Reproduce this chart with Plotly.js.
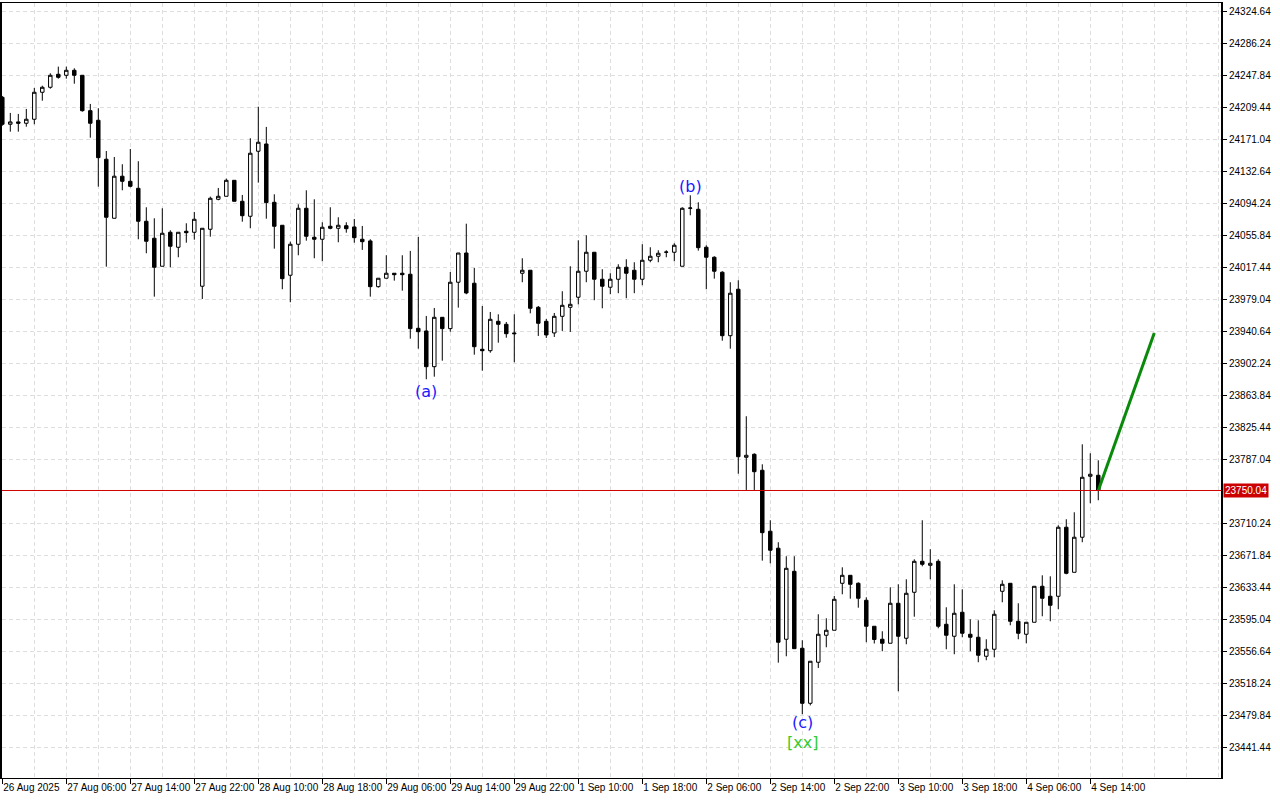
<!DOCTYPE html>
<html>
<head>
<meta charset="utf-8">
<script src="https://cdn.plot.ly/plotly-3.0.1.min.js"></script>
<style>
html,body{margin:0;padding:0;background:#fff;}
#chart{width:1280px;height:800px;}
</style>
</head>
<body>
<div id="chart"></div>
<script>
// ---- data (hourly candles, index 0..137) ----
var openP = [24222.2,24189.8,24192.6,24191.0,24195.8,24228.2,24234.2,24249.8,24248.6,24254.6,
24248.6,24206.1,24194.6,24147.8,24076.9,24127.4,24121.3,24112.9,24073.3,24052.9,
24019.3,24060.1,24042.1,24061.3,24060.1,23995.3,24063.7,24099.7,24103.3,24122.5,
24097.3,24079.3,24157.4,24166.1,24096.1,24068.5,24008.5,24045.7,24088.9,24054.1,
24051.7,24067.3,24064.9,24068.0,24066.5,24051.7,24049.7,23994.8,24004.9,24010.9,
24010.9,24009.7,23944.8,23941.6,23898.7,23958.0,23944.4,24000.1,24035.2,23998.9,
23919.6,23917.9,23953.2,23949.6,23939.2,24010.9,24014.5,23970.0,23953.2,23939.2,
23959.2,23970.0,23982.1,24013.3,24036.1,24003.7,23994.1,24003.7,24018.1,24014.5,
24003.7,24026.5,24031.3,24036.1,24036.1,24019.3,24088.9,24087.7,24042.1,24030.1,
24012.1,23935.9,23991.7,23789.9,23793.5,23774.3,23701.1,23680.7,23571.4,23653.0,
23560.6,23494.5,23543.8,23576.2,23582.2,23638.6,23648.2,23638.6,23618.2,23587.0,
23571.4,23566.6,23614.6,23572.6,23627.8,23665.0,23660.2,23665.0,23589.4,23575.0,
23603.8,23577.4,23573.8,23551.0,23559.4,23629.0,23638.6,23593.0,23577.4,23591.8,
23635.0,23623.0,23623.0,23705.9,23651.8,23693.9,23767.1,23768.3];

var highP = [24223.8,24203.4,24202.2,24208.2,24233.4,24236.1,24251.0,24259.0,24259.0,24257.0,
24248.6,24214.2,24209.0,24157.7,24150.5,24141.8,24160.1,24145.4,24090.1,24076.9,
24088.9,24062.5,24060.1,24070.9,24084.5,24064.9,24102.9,24113.3,24124.5,24122.5,
24104.9,24173.0,24210.9,24186.6,24105.7,24068.5,24048.8,24093.7,24110.5,24099.7,
24072.1,24090.1,24078.1,24072.1,24076.1,24067.7,24051.7,24004.9,24032.5,24010.9,
24032.5,24037.7,24054.5,23959.6,23969.2,23958.0,24012.4,24035.2,24070.4,24017.2,
23971.6,23964.4,23961.6,23952.4,23961.6,24028.9,24014.5,23971.6,23956.0,23963.2,
23989.3,24019.3,24050.5,24056.5,24036.1,24015.7,24010.9,24021.7,24027.7,24024.1,
24045.7,24042.1,24038.5,24038.5,24046.9,24090.1,24104.5,24096.1,24044.5,24031.3,
24013.3,24000.1,24002.5,23839.2,23794.7,23781.5,23714.3,23687.9,23671.1,23671.1,
23570.2,23545.0,23601.4,23596.6,23623.4,23657.8,23648.2,23639.8,23621.8,23587.0,
23581.0,23633.8,23637.4,23643.4,23667.4,23714.3,23679.5,23667.4,23609.8,23637.4,
23631.4,23595.4,23594.2,23571.4,23606.2,23642.2,23638.6,23614.6,23591.8,23635.0,
23648.2,23647.0,23708.3,23715.5,23723.9,23805.5,23794.7,23786.3];

var lowP = [24188.0,24180.9,24180.9,24186.9,24189.8,24218.1,24232.5,24244.5,24244.5,24238.5,
24204.9,24173.7,24114.9,24018.8,24076.9,24110.5,24114.1,24051.7,24034.9,23982.8,
24019.3,24018.1,24030.1,24047.6,24051.2,23980.0,24054.8,24098.5,24103.3,24097.3,
24072.8,24064.9,24119.7,24076.4,24040.4,23991.7,23976.1,24032.5,24050.0,24028.9,
24025.3,24063.7,24048.1,24059.6,24047.6,24038.9,23982.8,23993.6,24004.9,24002.0,
23990.0,23932.3,23920.3,23883.6,23886.7,23905.9,23940.7,23969.6,23985.7,23913.1,
23893.9,23915.5,23927.5,23933.5,23904.0,24000.1,23962.8,23935.6,23933.2,23934.4,
23941.6,23940.4,23973.6,24000.1,23978.5,23968.8,23985.7,23986.9,23980.9,23986.9,
23996.5,24024.1,24024.1,24030.1,24025.3,24019.3,24080.5,24038.0,23991.7,24004.4,
23929.9,23920.3,23770.2,23750.7,23750.7,23665.8,23662.6,23543.3,23551.0,23560.1,
23481.3,23492.0,23536.9,23561.8,23582.2,23625.4,23620.1,23609.3,23567.8,23566.3,
23557.0,23566.6,23508.9,23565.4,23598.5,23659.0,23643.4,23584.6,23559.4,23553.4,
23573.8,23557.0,23543.8,23546.2,23549.8,23615.8,23588.2,23571.4,23566.6,23591.8,
23599.0,23593.0,23607.4,23649.4,23651.8,23687.9,23734.7,23738.3];

var closeP = [24189.8,24192.6,24191.0,24195.8,24228.2,24234.2,24248.6,24246.2,24254.6,24248.6,
24206.1,24191.0,24149.7,24078.1,24127.4,24121.3,24115.3,24073.3,24049.3,24018.1,
24058.9,24043.3,24060.1,24059.6,24075.7,24064.9,24100.9,24103.3,24122.5,24097.3,
24080.0,24155.0,24168.2,24095.7,24067.3,24004.4,24045.7,24088.9,24055.3,24051.7,
24066.1,24064.9,24068.5,24064.4,24053.6,24048.8,23994.8,24004.9,24010.9,24009.2,
24009.2,23944.4,23940.7,23898.7,23958.0,23944.4,24000.1,24035.2,23987.2,23922.7,
23917.9,23955.6,23949.6,23938.3,23938.3,24014.5,23968.8,23950.8,23936.8,23959.2,
23972.4,23973.6,24013.3,24036.1,24003.7,23995.3,24003.7,24018.1,24010.9,24003.7,
24026.5,24031.3,24034.9,24036.3,24044.5,24088.9,24089.2,24041.6,24030.1,24013.3,
23935.9,23986.9,23790.6,23792.3,23772.6,23699.4,23678.3,23567.8,23656.6,23560.1,
23494.5,23545.0,23577.4,23582.2,23619.4,23648.2,23637.4,23620.6,23587.0,23571.1,
23566.6,23614.6,23575.0,23626.6,23665.0,23661.4,23662.6,23587.0,23576.2,23602.6,
23578.6,23573.8,23552.2,23559.4,23601.4,23637.4,23593.0,23578.6,23591.8,23635.0,
23620.6,23612.2,23705.9,23650.6,23693.9,23765.9,23769.5,23750.04];

var currentPrice = 23750.04;
var forecastX = [137, 144];
var forecastY = [23750.04, 23939.0];

var xTickIdx = [0,8,16,24,32,40,48,56,64,72,80,88,96,104,112,120,128,136];
var xTickText = ["26 Aug 2025","27 Aug 06:00","27 Aug 14:00","27 Aug 22:00","28 Aug 10:00",
"28 Aug 18:00","29 Aug 06:00","29 Aug 14:00","29 Aug 22:00","1 Sep 10:00","1 Sep 18:00",
"2 Sep 06:00","2 Sep 14:00","2 Sep 22:00","3 Sep 10:00","3 Sep 18:00","4 Sep 06:00","4 Sep 14:00"];

var yTicks = [24324.64,24286.24,24247.84,24209.44,24171.04,24132.64,24094.24,24055.84,24017.44,
23979.04,23940.64,23902.24,23863.84,23825.44,23787.04,23710.24,23671.84,23633.44,23595.04,
23556.64,23518.24,23479.84,23441.44];

var waveLabels = ["(a)","(b)","(c)","[xx]"];
var waveIdx = [53, 86, 100, 100];
var waveAnchor = ["low","high","low","low"];

// ---- build ----
var xIdx = [];
for (var i = 0; i < openP.length; i++) xIdx.push(i);

var candles = {
  type: 'candlestick',
  x: xIdx, open: openP, high: highP, low: lowP, close: closeP,
  increasing: {line: {color: '#000000', width: 1}, fillcolor: '#ffffff'},
  decreasing: {line: {color: '#000000', width: 1}, fillcolor: '#000000'},
  whiskerwidth: 0,
  hoverinfo: 'skip',
  showlegend: false
};

var forecast = {
  type: 'scatter', mode: 'lines',
  x: forecastX, y: forecastY,
  line: {color: '#0a8a0a', width: 3},
  hoverinfo: 'skip', showlegend: false
};

var gridCol = '#dedede';
var gridDash = '4px,3px';
var fontFam = 'Liberation Sans, Arial, sans-serif';

var annotations = [];
var waveShift = [-12, 9, -8, -28];
var waveColor = ['#1a1aff','#1a1aff','#1a1aff','#33cc33'];
for (var k = 0; k < waveLabels.length; k++) {
  var idx = waveIdx[k];
  annotations.push({
    x: idx, y: waveAnchor[k] === 'low' ? lowP[idx] : highP[idx],
    xref: 'x', yref: 'y', text: waveLabels[k], showarrow: false,
    xanchor: 'center', yanchor: 'middle', yshift: waveShift[k],
    font: {family: 'DejaVu Sans, sans-serif', size: 16, color: waveColor[k]}
  });
}
annotations.push({
  x: 1, xref: 'paper', y: currentPrice, yref: 'y',
  text: currentPrice.toFixed(2), showarrow: false,
  xanchor: 'left', yanchor: 'middle', xshift: 2,
  bgcolor: '#cc0000', borderpad: 1,
  font: {family: fontFam, size: 10, color: '#ffffff'}
});

var layout = {
  width: 1280, height: 800,
  margin: {l: 2, r: 59, t: 3, b: 22},
  paper_bgcolor: '#ffffff', plot_bgcolor: '#ffffff',
  showlegend: false,
  hovermode: false,
  boxgap: 0.38,
  xaxis: {
    type: 'linear',
    range: [-0.0375, 152.34],
    tickmode: 'array', tickvals: xTickIdx, ticktext: xTickText,
    tickangle: 0,
    ticklabelposition: 'outside right',
    ticks: 'outside', ticklen: 5, tickcolor: '#000000',
    showline: true, linecolor: '#000000', linewidth: 1, mirror: true,
    showgrid: true, gridcolor: gridCol, griddash: gridDash, gridwidth: 1,
    minor: {tickmode: 'linear', tick0: 0, dtick: 4, showgrid: true,
            gridcolor: gridCol, griddash: gridDash, gridwidth: 1, ticks: ''},
    zeroline: false,
    rangeslider: {visible: false},
    tickfont: {family: fontFam, size: 10, color: '#000000'},
    fixedrange: true
  },
  yaxis: {
    side: 'right',
    range: [23404.8, 24335.4],
    tickmode: 'array', tickvals: yTicks,
    tickformat: '.2f',
    ticks: 'outside', ticklen: 4, tickcolor: '#000000',
    showline: true, linecolor: '#000000', linewidth: 2, mirror: true,
    showgrid: true, gridcolor: gridCol, griddash: gridDash, gridwidth: 1,
    zeroline: false,
    tickfont: {family: fontFam, size: 10, color: '#000000'},
    fixedrange: true
  },
  shapes: [{
    type: 'line', xref: 'paper', x0: 0, x1: 1, yref: 'y', y0: currentPrice, y1: currentPrice,
    line: {color: '#d00000', width: 1}
  }],
  annotations: annotations
};

Plotly.newPlot('chart', [candles, forecast], layout, {displayModeBar: false, staticPlot: true});
</script>
</body>
</html>
